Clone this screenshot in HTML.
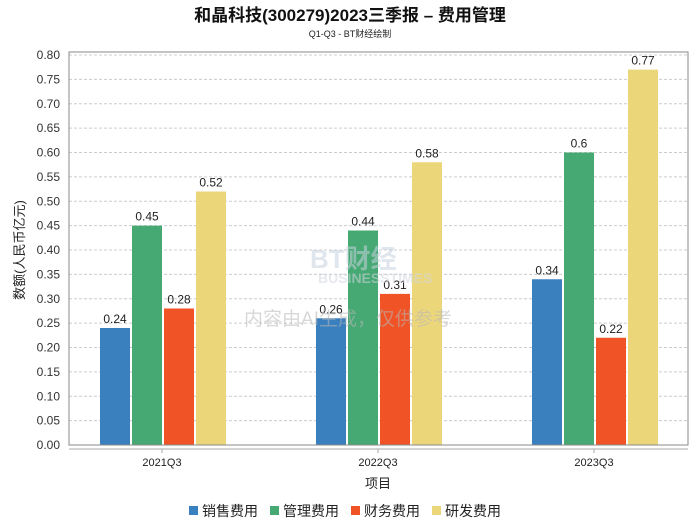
<!DOCTYPE html>
<html><head><meta charset="utf-8"><style>
body{margin:0;background:#fff;}
text{font-family:"Liberation Sans","Noto Sans CJK SC",sans-serif;}
</style></head><body>
<svg id="c" width="700" height="524" xmlns="http://www.w3.org/2000/svg">
<text x="350" y="21" text-anchor="middle" font-size="17" font-weight="bold" fill="#111">和晶科技(300279)2023三季报 – 费用管理</text>
<text x="350" y="37" text-anchor="middle" font-size="9" fill="#222" font-family="Liberation Mono">Q1-Q3 - BT财经绘制</text>
<g id="grid"></g>
<g id="bars"></g>
<g opacity="0.55">
<text x="310" y="268" font-size="26" fill="#c8d2e0" font-weight="bold" font-family="Liberation Serif">BT财经</text>
<text x="318" y="283" font-size="14" fill="#d0d6e0" font-weight="bold" font-family="Liberation Serif">BUSINESSTIMES</text>
<text x="348" y="325" text-anchor="middle" font-size="19" fill="#b8b8b8">内容由AI生成，仅供参考</text>
</g>
<rect x="69" y="52" width="619" height="393" fill="none" stroke="#888" stroke-width="1"/>
<line x1="69" y1="449" x2="688" y2="449" stroke="#aaa"/>
<text transform="translate(24,250) rotate(-90)" text-anchor="middle" font-size="13" fill="#222">数额(人民币亿元)</text>
<text x="378" y="488" text-anchor="middle" font-size="13" fill="#222">项目</text>
<g id="legend"></g>
</svg>
<script>
const categories=["2021Q3","2022Q3","2023Q3"];
const seriesNames=["销售费用","管理费用","财务费用","研发费用"];
const colors=["#3a80be","#46a872","#f05426","#ecd67a"];
const sales=[0.24,0.26,0.34];
const admin=[0.45,0.44,0.6];
const finance=[0.28,0.31,0.22];
const rnd=[0.52,0.58,0.77];
const valueLabels=[["0.24","0.26","0.34"],["0.45","0.44","0.6"],["0.28","0.31","0.22"],["0.52","0.58","0.77"]];
const yTicks=[0,0.05,0.1,0.15,0.2,0.25,0.3,0.35,0.4,0.45,0.5,0.55,0.6,0.65,0.7,0.75,0.8];
const series=[sales,admin,finance,rnd];
const NS="http://www.w3.org/2000/svg";
const y=v=>445-v/0.8*390;
const xc=i=>162+i*216;
function mk(t,a,p){const e=document.createElementNS(NS,t);for(const k in a)e.setAttribute(k,a[k]);p.appendChild(e);return e;}
const g=document.getElementById('grid');
yTicks.forEach(v=>{
 if(v>0){const l=mk('line',{x1:69,x2:688,y1:y(v),y2:y(v),stroke:'#ccc','stroke-dasharray':'3,2'},g);
 
 }
 const t=mk('text',{x:60,y:y(v)+4,'text-anchor':'end','font-size':12,fill:'#333'},g);t.textContent=v.toFixed(2);
 
 
});
const b=document.getElementById('bars');
categories.forEach((c,i)=>{
 series.forEach((s,j)=>{
  const x=xc(i)-62+j*32;
  const r=mk('rect',{x:x,y:y(s[i]),width:30,height:445-y(s[i]),fill:colors[j]},b);
  
  
  const t=mk('text',{x:x+15,y:y(s[i])-5,'text-anchor':'middle','font-size':12,fill:'#222'},b);t.textContent=valueLabels[j][i];
  
  
 });
 const tk=mk('line',{x1:xc(i),x2:xc(i),y1:449,y2:453,stroke:'#aaa'},b);
 
 
 const t=mk('text',{x:xc(i),y:466,'text-anchor':'middle','font-size':11,fill:'#222'},b);t.textContent=c;
 
 
});
const lg=document.getElementById('legend');
let lx=189;
seriesNames.forEach((n,j)=>{
 const r=mk('rect',{x:lx,y:506,width:9,height:9,fill:colors[j]},lg);
 
 
 const t=mk('text',{x:lx+13,y:516,'font-size':14,fill:'#222'},lg);t.textContent=n;
 
 
 lx+=81;
});
</script>
</body></html>
